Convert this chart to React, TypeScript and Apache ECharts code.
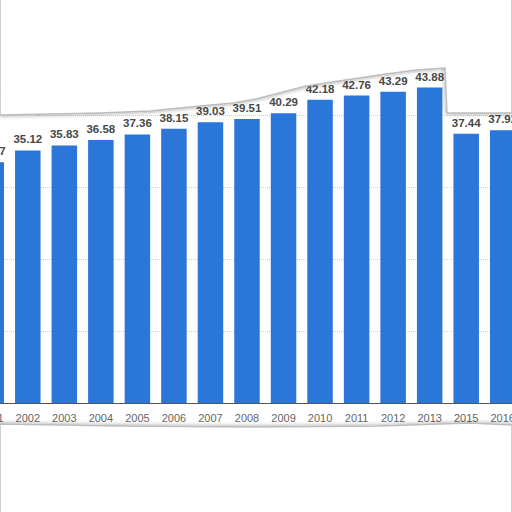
import { useEffect, useRef } from 'react'
import * as echarts from 'echarts'

const years = ['2001', '2002', '2003', '2004', '2005', '2006', '2007', '2008', '2009', '2010', '2011', '2012', '2013', '2015', '2016']
const values = [33.47, 35.12, 35.83, 36.58, 37.36, 38.15, 39.03, 39.51, 40.29, 42.18, 42.76, 43.29, 43.88, 37.44, 37.92]

// torn paper edges (page pixels)
const topEdge = [[0, 115], [100, 113], [150, 111], [200, 106], [233, 103], [256, 99], [306, 86], [339, 81], [379, 75], [416, 70], [445, 68], [447, 113], [512, 113]]
const bottomEdge = [[0, 424], [120, 426], [250, 427], [380, 426], [440, 424], [470, 423], [512, 425]]

const SHIFT = 27

export default function App() {
  const chartRef = useRef<HTMLDivElement>(null)

  useEffect(() => {
    if (!chartRef.current) return
    const chart = echarts.init(chartRef.current, undefined, { renderer: 'svg' })

    const top = [[0, -10], [512, -10], ...topEdge.slice().reverse()].map(([x, y]) => [x + SHIFT, y])
    const bottom = [...bottomEdge, [512, 530], [0, 530]].map(([x, y]) => [x + SHIFT, y])
    const edgeStyle = {
      fill: '#fff',
      stroke: '#bdbdbd',
      lineWidth: 1.4,
      shadowBlur: 4,
      shadowColor: 'rgba(0,0,0,0.4)'
    }

    const option: echarts.EChartsOption = {
      animation: false,
      backgroundColor: '#fff',
      grid: { left: 0, right: 0, top: 43.5, bottom: 109 },
      xAxis: {
        type: 'category',
        data: years,
        axisLine: { lineStyle: { color: '#555', width: 1 } },
        axisTick: { show: false },
        axisLabel: { color: '#666', fontSize: 11, margin: 9, fontFamily: 'Liberation Sans' }
      },
      yAxis: {
        type: 'value',
        min: 0,
        max: 50,
        interval: 10,
        axisLine: { show: false },
        axisTick: { show: false },
        axisLabel: { show: false },
        splitLine: { lineStyle: { color: '#cfcfcf', type: 'dotted', width: 1 } }
      },
      series: [
        {
          type: 'bar',
          data: values,
          barWidth: 25.5,
          itemStyle: { color: '#2a76d9' },
          label: {
            show: true,
            position: 'top',
            distance: 5,
            color: '#484848',
            fontWeight: 'bold',
            fontSize: 11.5,
            fontFamily: 'Liberation Sans'
          }
        }
      ],
      graphic: [
        { type: 'polygon', z: 100, shape: { points: top }, style: edgeStyle },
        { type: 'polygon', z: 100, shape: { points: bottom }, style: edgeStyle }
      ]
    }

    chart.setOption(option)
    return () => {
      chart.dispose()
    }
  }, [])

  return (
    <div style={{ position: 'fixed', left: 0, top: 0, width: 512, height: 512, overflow: 'hidden', background: '#fff' }}>
      <div ref={chartRef} style={{ position: 'absolute', left: -SHIFT, top: 0, width: 512 + 36, height: 512 }} />
    </div>
  )
}
